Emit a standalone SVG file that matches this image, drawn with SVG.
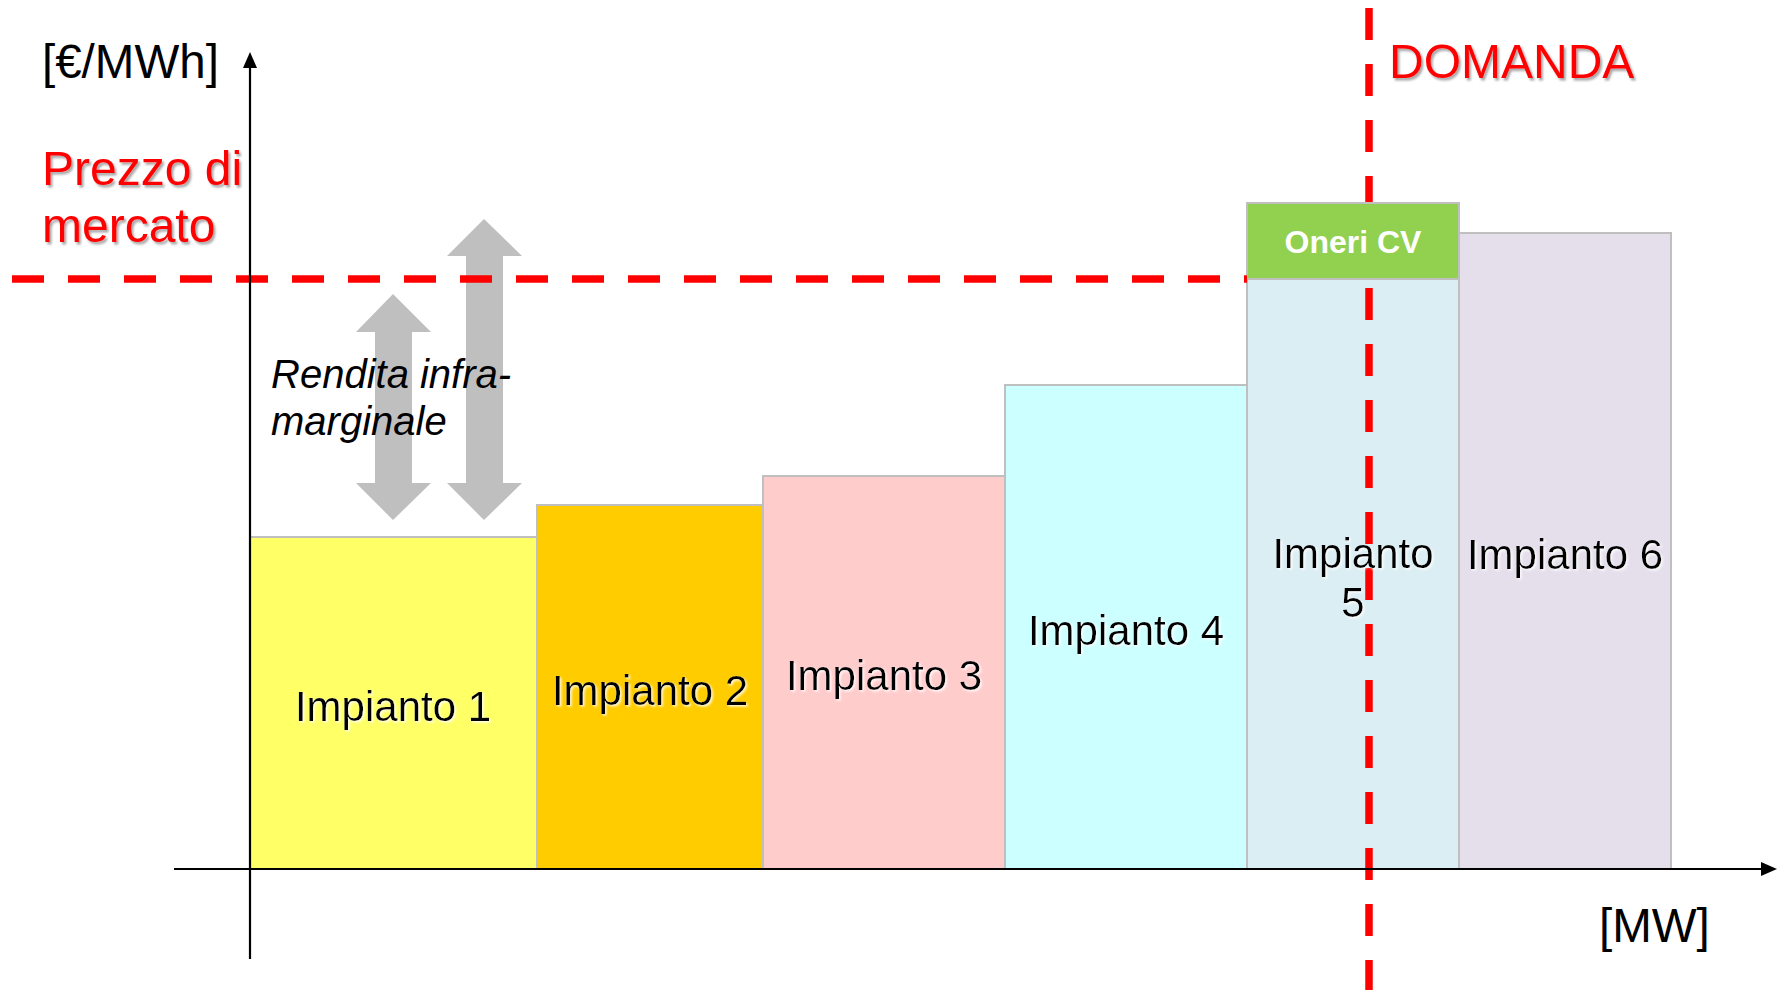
<svg xmlns="http://www.w3.org/2000/svg" width="1783" height="990" viewBox="0 0 1783 990">
  <defs>
    <style>
      .bar { stroke: #BFBFBF; stroke-width: 2; }
      .lbl { font-family: "Liberation Sans", Arial, sans-serif; font-size: 42px; fill: #000; text-anchor: middle; filter: url(#glow); }
      .unit { font-family: "Liberation Sans", Arial, sans-serif; font-size: 47.5px; fill: #000; }
      .red { font-family: "Liberation Sans", Arial, sans-serif; font-size: 48px; fill: #FF0000; filter: url(#shadow); }
      .note { font-family: "Liberation Sans", Arial, sans-serif; font-size: 40px; font-style: italic; fill: #000; }
      .axis { stroke: #000; stroke-width: 2.2; fill: none; }
      .dash { stroke: #FF0000; stroke-width: 7.5; stroke-dasharray: 32 24; fill: none; }
      .rent { fill: #BFBFBF; }
    </style>
    <filter id="shadow" x="-10%" y="-20%" width="130%" height="150%">
      <feDropShadow dx="2" dy="2.5" stdDeviation="1.2" flood-color="#000" flood-opacity="0.35"/>
    </filter>
    <filter id="glow" x="-10%" y="-20%" width="130%" height="150%">
      <feDropShadow dx="1.5" dy="1.5" stdDeviation="0.8" flood-color="#FFFFFF" flood-opacity="0.9"/>
    </filter>
  </defs>

  <rect width="1783" height="990" fill="#FFFFFF"/>

  <!-- supply blocks, merit order -->
  <g id="impianto1"><rect class="bar" x="250" y="537" width="287" height="332" fill="#FFFF66"/></g>
  <g id="impianto2"><rect class="bar" x="537" y="505" width="226" height="364" fill="#FFCC00"/></g>
  <g id="impianto3"><rect class="bar" x="763" y="476" width="242" height="393" fill="#FFCCCC"/></g>
  <g id="impianto4"><rect class="bar" x="1005" y="385" width="242" height="484" fill="#CCFFFF"/></g>
  <g id="impianto5"><rect class="bar" x="1247" y="279" width="212" height="590" fill="#DBEEF3"/></g>
  <g id="impianto6"><rect class="bar" x="1459" y="233" width="212" height="636" fill="#E5DFEC"/></g>

  <!-- demand line -->
  <g id="domanda-line">
    <line class="dash" x1="1369" y1="8" x2="1369" y2="990"/>
  </g>

  <!-- green certificate charge on top of block 5 -->
  <g id="oneri-cv">
    <rect class="bar" x="1247" y="203" width="212" height="76" fill="#92D050"/>
    <text x="1353" y="253" font-family="'Liberation Sans', Arial, sans-serif" font-size="32" font-weight="bold" fill="#FFFFFF" text-anchor="middle">Oneri CV</text>
  </g>

  <!-- infra-marginal rent arrows -->
  <g id="rendita">
    <polygon class="rent" points="393,294 431,332 412,332 412,483 431,483 393,520 356,483 375,483 375,332 356,332"/>
    <polygon class="rent" points="484,219 522,256 503,256 503,483 522,483 484,520 447,483 466,483 466,256 447,256"/>
    <text class="note" x="271" y="388">Rendita infra-</text>
    <text class="note" x="271" y="435">marginale</text>
  </g>

  <!-- market price line -->
  <g id="prezzo-line">
    <line class="dash" x1="12" y1="279" x2="1247" y2="279"/>
  </g>

  <!-- axes -->
  <g id="connectors">
    <line class="axis" x1="250" y1="66" x2="250" y2="959"/>
    <polygon points="250,52 243,68 257,68" fill="#000"/>
    <line class="axis" x1="174" y1="869" x2="1764" y2="869"/>
    <polygon points="1777,869 1761,862 1761,876" fill="#000"/>
  </g>

  <!-- labels -->
  <g id="labels">
    <text class="unit" x="42" y="78">[€/MWh]</text>
    <text class="unit" x="1599" y="942">[MW]</text>
    <text class="red" x="42" y="185">Prezzo di</text>
    <text class="red" x="42" y="242">mercato</text>
    <text class="red" x="1389" y="78">DOMANDA</text>
    <text class="lbl" x="393" y="721">Impianto 1</text>
    <text class="lbl" x="650" y="705">Impianto 2</text>
    <text class="lbl" x="884" y="690">Impianto 3</text>
    <text class="lbl" x="1126" y="645">Impianto 4</text>
    <text class="lbl" x="1353" y="568">Impianto</text>
    <text class="lbl" x="1353" y="617">5</text>
    <text class="lbl" x="1565" y="569">Impianto 6</text>
  </g>
</svg>
